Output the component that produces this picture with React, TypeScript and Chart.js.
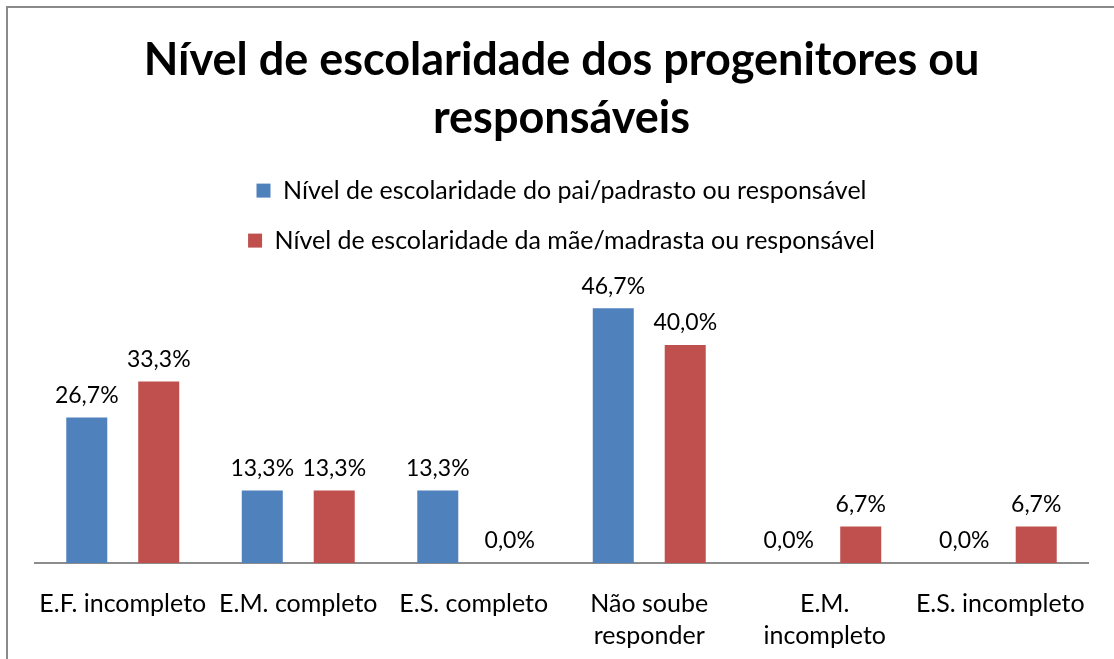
import React, { useEffect, useRef } from "react";
import { Chart, registerables } from "chart.js";

Chart.register(...registerables);

const categories: (string | string[])[] = [
  "E.F. incompleto",
  "E.M. completo",
  "E.S. completo",
  ["Não soube", "responder"],
  ["E.M.", "incompleto"],
  "E.S. incompleto",
];
const seriesNames = [
  "Nível de escolaridade do pai/padrasto ou responsável",
  "Nível de escolaridade da mãe/madrasta ou responsável",
];
const paiValues = [26.7, 13.3, 13.3, 46.7, 0.0, 0.0];
const maeValues = [33.3, 13.3, 0.0, 40.0, 6.7, 6.7];
const titleLines = ["Nível de escolaridade dos progenitores ou", "responsáveis"];
const yMax = 55;

const FONT = "Lato, 'Open Sans', sans-serif";

const valueLabels = {
  id: "valueLabels",
  afterDatasetsDraw(chart: any) {
    const ctx = chart.ctx;
    ctx.save();
    ctx.font = `23px ${FONT}`;
    ctx.fillStyle = "#000";
    ctx.textAlign = "center";
    ctx.textBaseline = "middle";
    chart.data.datasets.forEach((ds: any, i: number) => {
      const meta = chart.getDatasetMeta(i);
      meta.data.forEach((bar: any, j: number) => {
        const v = ds.data[j] as number;
        const txt = v.toFixed(1).replace(".", ",") + "%";
        ctx.fillText(txt, bar.x, bar.y - 22);
      });
    });
    ctx.restore();
  },
};

export default function App() {
  const ref = useRef<HTMLCanvasElement>(null);
  useEffect(() => {
    if (!ref.current) return;
    const chart = new Chart(ref.current, {
      type: "bar",
      data: {
        labels: categories,
        datasets: [
          {
            label: seriesNames[0],
            data: paiValues,
            backgroundColor: "#4F81BD",
            categoryPercentage: 0.82,
            barPercentage: 0.57,
          },
          {
            label: seriesNames[1],
            data: maeValues,
            backgroundColor: "#C0504D",
            categoryPercentage: 0.82,
            barPercentage: 0.57,
          },
        ],
      },
      options: {
        animation: false,
        responsive: false,
        maintainAspectRatio: false,
        layout: { padding: { left: 35, right: 26, top: 31, bottom: 0 } },
        plugins: {
          title: {
            display: true,
            text: titleLines,
            color: "#000",
            font: { family: FONT, size: 45, weight: "bold", lineHeight: 1.29 },
            padding: { top: 0, bottom: 6 },
          },
          legend: {
            display: true,
            position: "top",
            labels: {
              color: "#000",
              font: { family: FONT, size: 25 },
              boxWidth: 14,
              boxHeight: 14,
              padding: 25,
            },
          },
          tooltip: { enabled: false },
        },
        scales: {
          x: {
            grid: { display: false, drawTicks: false },
            border: { display: true, color: "#8c8c8c", width: 2 },
            ticks: {
              color: "#000",
              font: { family: FONT, size: 25, lineHeight: 1.28 },
              maxRotation: 0,
              autoSkip: false,
              padding: 25,
            },
            afterFit(scale: any) {
              scale.height = 96;
            },
          },
          y: {
            display: false,
            min: 0,
            max: yMax,
          },
        },
      },
      plugins: [valueLabels],
    });
    return () => chart.destroy();
  }, []);
  return (
    <div
      style={{
        position: "fixed",
        left: 0,
        top: 0,
        width: 1114,
        height: 659,
        background: "#fff",
        overflow: "hidden",
      }}
    >
      <div
        style={{
          position: "absolute",
          left: 6,
          top: 6,
          width: 1300,
          height: 900,
          border: "2px solid #8a8a8a",
        }}
      />
      <canvas
        ref={ref}
        width={1114}
        height={659}
        style={{ position: "absolute", left: 0, top: 0 }}
      />
    </div>
  );
}
